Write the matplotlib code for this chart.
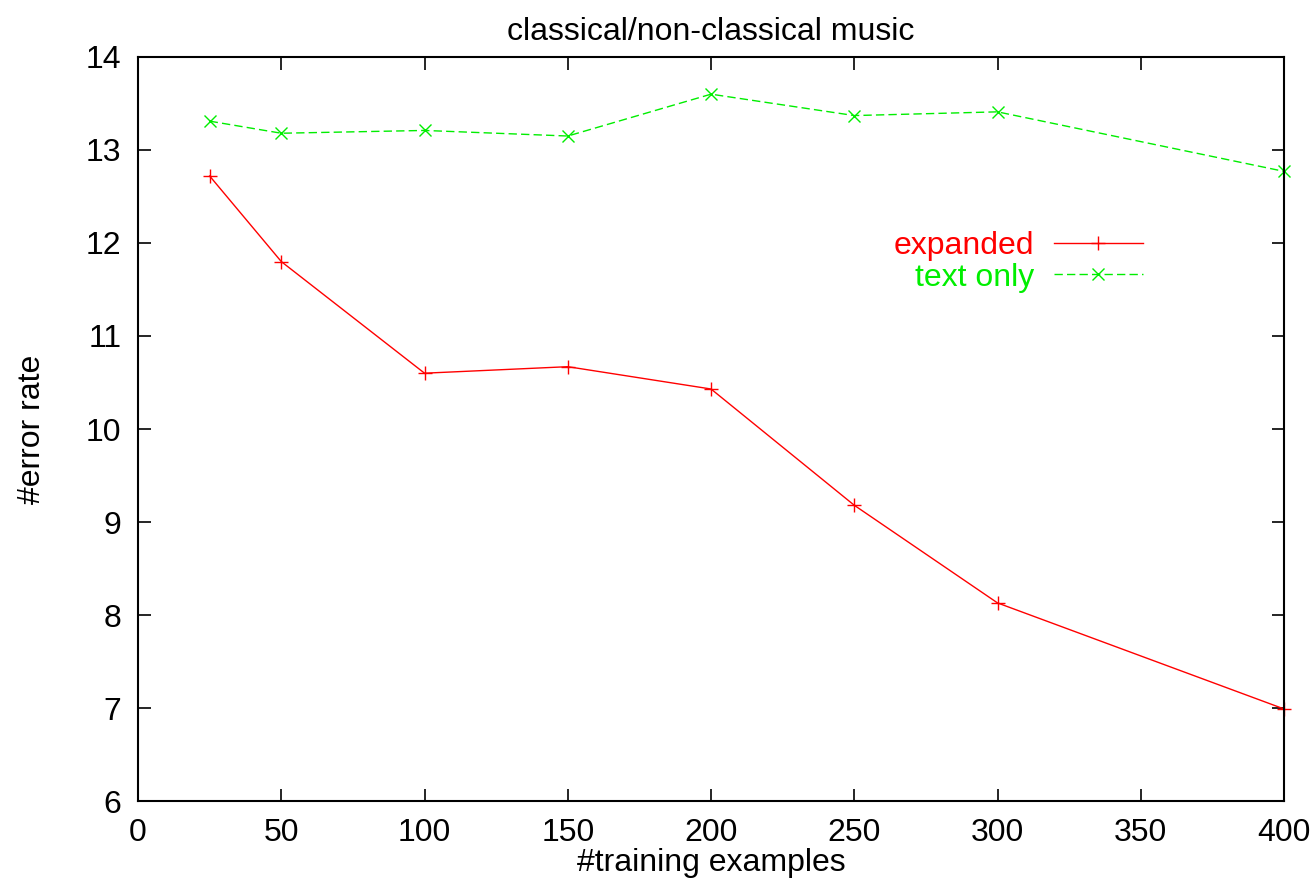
import matplotlib
matplotlib.use("Agg")
import matplotlib.pyplot as plt

plt.rcParams['font.family'] = ['Liberation Sans', 'DejaVu Sans']

# training set sizes and error rates
n_train = [25, 50, 100, 150, 200, 250, 300, 400]
expanded = [12.72, 11.80, 10.60, 10.67, 10.43, 9.18, 8.13, 6.99]
text_only = [13.31, 13.18, 13.21, 13.15, 13.60, 13.37, 13.41, 12.77]

fig = plt.figure(figsize=(13.16, 8.86), dpi=100)
ax = fig.add_axes([0.1049, 0.0959, 0.8708, 0.8398])

ax.plot(n_train, expanded, color='#ff0000', lw=1, marker='+', ms=10, mew=1,
        label='expanded', clip_on=False)
ax.plot(n_train, text_only, color='#00ee00', lw=1, ls=(0, (6, 3)), marker='x',
        ms=9, mew=1, label='text only', clip_on=False)

ax.set_xlim(0, 400)
ax.set_ylim(6, 14)
ax.set_xticks(range(0, 401, 50))
ax.set_yticks(range(6, 15))
ax.tick_params(direction='in', top=True, right=True, length=9, width=1.2,
               labelsize=23, pad=12)
for s in ax.spines.values():
    s.set_linewidth(1.5)

ax.set_title('classical/non-classical music', fontsize=23, pad=12)
ax.set_xlabel('#training examples', fontsize=23, labelpad=0)
ax.set_ylabel('#error rate', fontsize=23, labelpad=28)

leg = ax.legend(loc='upper right', bbox_to_anchor=(0.877, 0.766),
                frameon=False, markerfirst=False, handlelength=2.8,
                handletextpad=0.62, labelspacing=0.05, fontsize=23,
                numpoints=1, labelcolor='linecolor', borderaxespad=0,
                borderpad=0)

fig.savefig('out.png', dpi=100)
